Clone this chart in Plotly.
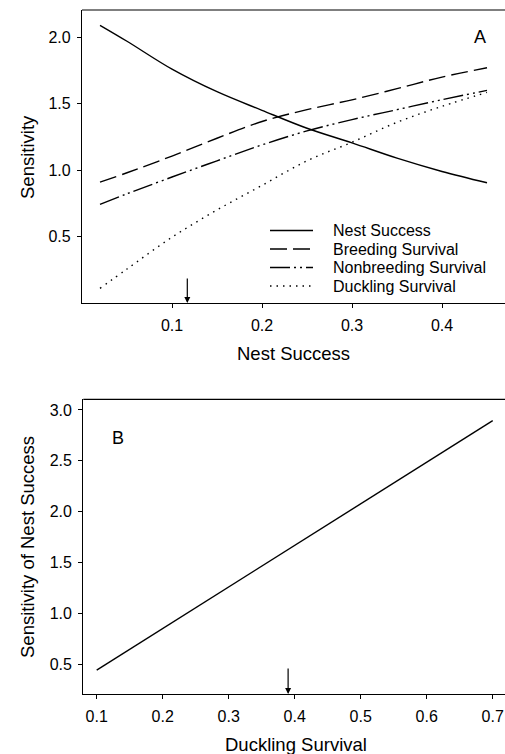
import plotly.graph_objects as go

# ---- Panel A data ----
nest_success_x = [0.02, 0.05, 0.10, 0.15, 0.20, 0.25, 0.30, 0.35, 0.40, 0.45]
sens_nest = [2.09, 1.97, 1.76, 1.59, 1.45, 1.315, 1.205, 1.09, 0.99, 0.905]
sens_breeding = [0.91, 0.98, 1.106, 1.24, 1.366, 1.455, 1.529, 1.613, 1.70, 1.77]
sens_nonbreeding = [0.742, 0.822, 0.948, 1.07, 1.19, 1.295, 1.38, 1.455, 1.53, 1.60]
sens_duckling = [0.11, 0.256, 0.495, 0.70, 0.885, 1.07, 1.21, 1.36, 1.48, 1.585]
arrow_a_x = 0.117

# ---- Panel B data ----
duckling_x = [0.1, 0.7]
sens_nest_b = [0.44, 2.895]
arrow_b_x = 0.39

series_names = ["Nest Success", "Breeding Survival", "Nonbreeding Survival", "Duckling Survival"]
series_dash = ["solid", "17px,6px", "20px,4px,2px,4px,2px,4px", "1.5px,5px"]

FONT = "Liberation Sans, Arial, sans-serif"
W, H = 505, 754

fig = go.Figure()
series_vals = [sens_nest, sens_breeding, sens_nonbreeding, sens_duckling]
for name, vals, dash in zip(series_names, series_vals, series_dash):
    fig.add_trace(go.Scatter(x=nest_success_x, y=vals, mode="lines", name=name,
                             line=dict(color="black", width=1.4, dash=dash, shape="spline"),
                             showlegend=False, xaxis="x", yaxis="y"))

fig.add_trace(go.Scatter(x=duckling_x, y=sens_nest_b, mode="lines", name="Nest Success",
                         line=dict(color="black", width=1.4), showlegend=False,
                         xaxis="x2", yaxis="y2"))

axis_common = dict(showline=True, linecolor="black", linewidth=1.3, ticks="outside",
                   ticklen=4, tickwidth=1, tickcolor="black", showgrid=False, zeroline=False,
                   tickfont=dict(family=FONT, size=16, color="black"))

# pixel -> paper helpers
def px_x(p):
    return p / W

def px_y(p):
    return 1 - p / H

a_dom_x = [px_x(82), 1]
a_dom_y = [px_y(303), px_y(10)]
b_dom_x = [px_x(83.3), 1]
b_dom_y = [px_y(694), px_y(399.3)]

fig.update_layout(
    width=W, height=H, margin=dict(l=0, r=0, t=0, b=0),
    paper_bgcolor="white", plot_bgcolor="white",
    font=dict(family=FONT, color="black"),
    xaxis=dict(domain=a_dom_x, range=[0, 0.47], tickvals=[0.1, 0.2, 0.3, 0.4],
               ticktext=["0.1", "0.2", "0.3", "0.4"], anchor="y", ticklabelstandoff=4, **axis_common),
    yaxis=dict(domain=a_dom_y, range=[0, 2.205], tickvals=[0.5, 1.0, 1.5, 2.0],
               ticktext=["0.5", "1.0", "1.5", "2.0"], anchor="x", ticklabelstandoff=3, **axis_common),
    xaxis2=dict(domain=b_dom_x, range=[0.0797, 0.7186],
                tickvals=[0.1, 0.2, 0.3, 0.4, 0.5, 0.6, 0.7],
                ticktext=["0.1", "0.2", "0.3", "0.4", "0.5", "0.6", "0.7"], anchor="y2",
                ticklabelstandoff=4, **axis_common),
    yaxis2=dict(domain=b_dom_y, range=[0.205, 3.105], tickvals=[0.5, 1.0, 1.5, 2.0, 2.5, 3.0],
                ticktext=["0.5", "1.0", "1.5", "2.0", "2.5", "3.0"], anchor="x2",
                ticklabelstandoff=3, **axis_common),
)

shapes = []
# top frame lines
shapes.append(dict(type="line", xref="paper", yref="paper", x0=a_dom_x[0], x1=1,
                   y0=a_dom_y[1], y1=a_dom_y[1], line=dict(color="black", width=1.2)))
shapes.append(dict(type="line", xref="paper", yref="paper", x0=b_dom_x[0], x1=1,
                   y0=b_dom_y[1], y1=b_dom_y[1], line=dict(color="black", width=1.2)))

annotations = []
# legend (manual)
leg_rows = [230.5, 249, 267.5, 286]
for name, dash, ry in zip(series_names, series_dash, leg_rows):
    shapes.append(dict(type="line", xref="paper", yref="paper", x0=px_x(270), x1=px_x(313),
                       y0=px_y(ry), y1=px_y(ry), line=dict(color="black", width=1.3, dash=dash)))
    annotations.append(dict(text=name, xref="paper", yref="paper", x=px_x(331), y=px_y(ry),
                            xanchor="left", yanchor="middle", showarrow=False,
                            font=dict(family=FONT, size=16, color="black")))

# panel labels
annotations.append(dict(text="A", xref="paper", yref="paper", x=px_x(480), y=px_y(37.5),
                        xanchor="center", yanchor="middle", showarrow=False,
                        font=dict(family=FONT, size=18, color="black")))
annotations.append(dict(text="B", xref="paper", yref="paper", x=px_x(118), y=px_y(437.5),
                        xanchor="center", yanchor="middle", showarrow=False,
                        font=dict(family=FONT, size=18, color="black")))

# axis titles
annotations.append(dict(text="Nest Success", xref="paper", yref="paper", x=px_x(293.5), y=px_y(354),
                        xanchor="center", yanchor="middle", showarrow=False,
                        font=dict(family=FONT, size=18.5, color="black")))
annotations.append(dict(text="Sensitivity", xref="paper", yref="paper", x=px_x(27), y=px_y(157),
                        xanchor="center", yanchor="middle", showarrow=False, textangle=-90,
                        font=dict(family=FONT, size=18.5, color="black")))
annotations.append(dict(text="Duckling Survival", xref="paper", yref="paper", x=px_x(296), y=px_y(744),
                        xanchor="center", yanchor="middle", showarrow=False,
                        font=dict(family=FONT, size=18.5, color="black")))
annotations.append(dict(text="Sensitivity of Nest Success", xref="paper", yref="paper", x=px_x(27),
                        y=px_y(547), xanchor="center", yanchor="middle", showarrow=False, textangle=-90,
                        font=dict(family=FONT, size=18.5, color="black")))

# arrows marking current values
annotations.append(dict(x=arrow_a_x, y=0, xref="x", yref="y", ax=arrow_a_x, ay=0.195,
                        axref="x", ayref="y", text="", showarrow=True, arrowhead=2,
                        arrowsize=1, arrowwidth=1.2, arrowcolor="black"))
annotations.append(dict(x=arrow_b_x, y=0.205, xref="x2", yref="y2", ax=arrow_b_x, ay=0.47,
                        axref="x2", ayref="y2", text="", showarrow=True, arrowhead=2,
                        arrowsize=1, arrowwidth=1.2, arrowcolor="black"))

fig.update_layout(shapes=shapes, annotations=annotations)
fig.write_html("out.html")
